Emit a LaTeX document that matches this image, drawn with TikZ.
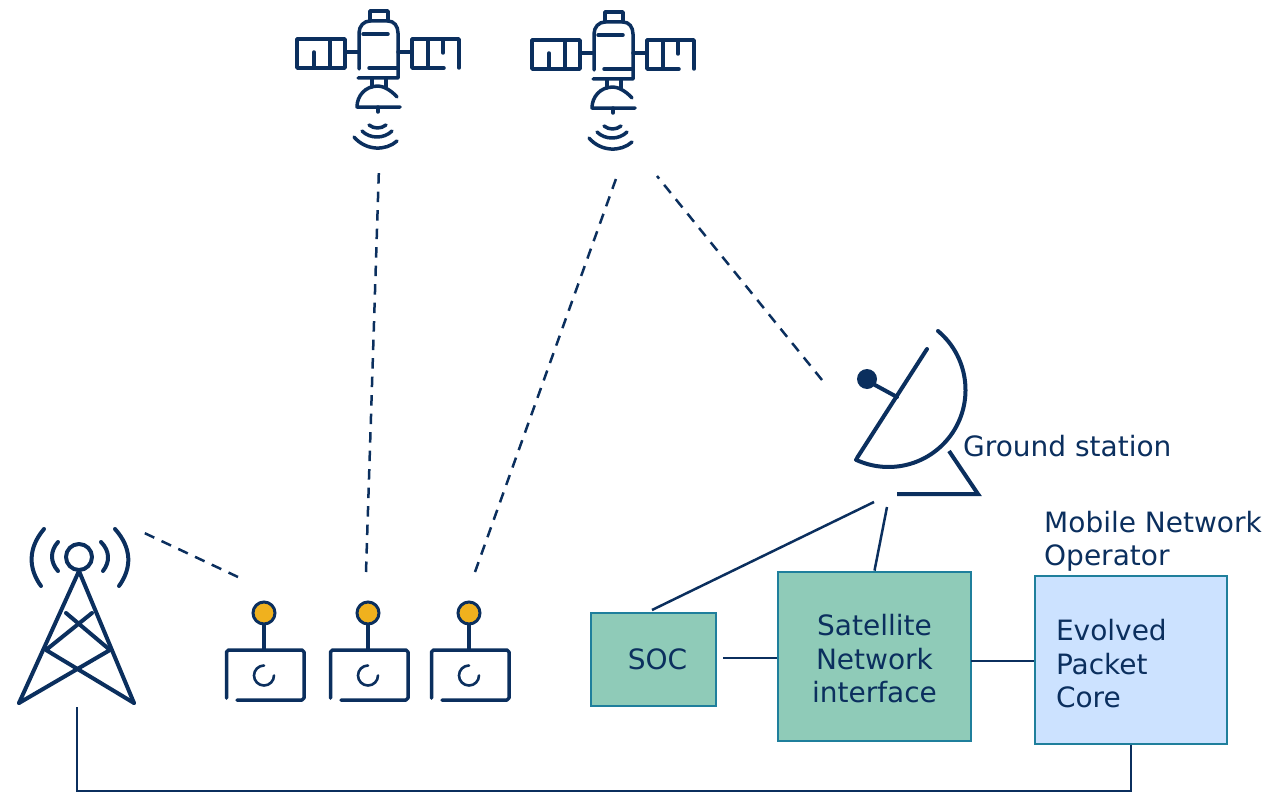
\documentclass[tikz,border=0pt]{standalone}
\usepackage{fontspec}
\setmainfont{DejaVu Sans}
\definecolor{navy}{HTML}{0B2F5E}
\definecolor{boxgreen}{HTML}{8FCBB8}
\definecolor{boxblue}{HTML}{CCE2FF}
\definecolor{boxedge}{HTML}{1F7F9C}
\definecolor{amber}{HTML}{F0B11E}
\tikzset{
  icon/.style={draw=navy,line width=4pt,line cap=round,line join=round},
  thin icon/.style={draw=navy,line width=3.5pt,line cap=round,line join=round},
  link/.style={draw=navy,line width=2.5pt},
  radio/.style={draw=navy,line width=2.5pt,dash pattern=on 10.5pt off 8pt},
  txt/.style={text=navy,font=\fontsize{28}{33.5}\selectfont},
  box/.style={draw=boxedge,line width=2.8pt,inner sep=0pt,align=center,text=navy,font=\fontsize{28}{33.5}\selectfont},
  pics/satellite/.style={code={
    \draw[thin icon] (370,21) -- (370,11) -- (388,11) -- (388,21);
    \draw[thin icon] (359,69) -- (359,33) .. controls (359,26) and (364,21) .. (370,21) -- (388,21) .. controls (394,21) and (398,26) .. (398,33) -- (398,78) -- (358,78);
    \draw[thin icon] (363,34) -- (388,34);
    \draw[thin icon] (369,68) -- (398,68);
    \draw[thin icon] (372,78) -- (372,87) (386,78) -- (386,87);
    \draw[thin icon] (397,97) .. controls (390,89) and (382,86) .. (378,86) .. controls (365,86) and (357,96) .. (357,107) -- (400,107);
    \draw[thin icon] (378,107) -- (378,112);
    \draw[thin icon] (369,125) .. controls (374,129) and (381,129) .. (386,125);
    \draw[thin icon] (362,131) .. controls (370,139) and (384,139) .. (392,131);
    \draw[thin icon] (354,137) .. controls (366,151) and (386,151) .. (397,141);
    \draw[thin icon] (345,39) -- (297,39) -- (297,68) -- (345,68) -- cycle;
    \draw[thin icon] (314,68) -- (314,52) (330,39) -- (330,68) (345,52) -- (359,52);
    \draw[thin icon] (398,52) -- (412,52);
    \draw[thin icon] (444,68) -- (412,68) -- (412,39) -- (459,39) -- (459,68);
    \draw[thin icon] (428,39) -- (428,68) (443,39) -- (443,53);
  }},
  pics/device/.style={code={
    \draw[thin icon] (226.5,698) -- (226.5,652) -- (228.5,650) -- (302,650) -- (304,652) -- (304,698) -- (302,700) -- (237,700);
    \draw[thin icon] (264,650) -- (264,624);
    \draw[draw=navy,line width=3pt,fill=amber] (264,613) circle[radius=11pt];
    \draw[line width=2.6pt,draw=navy,line cap=round] (264,665.5) arc[start angle=90,end angle=360,radius=10pt];
  }}
}
\begin{document}
\begin{tikzpicture}[x=1pt,y=-1pt]
\useasboundingbox (0,0) rectangle (1283,792);
% satellites
\pic (sat1) at (0,0) {satellite};
\pic (sat2) at (235,1) {satellite};
% tower
\draw[icon] (79,557) circle[radius=13pt];
\draw[icon] (19,703) -- (79,571) -- (134,703);
\draw[icon] (19,703) -- (110,650) -- (66,613);
\draw[icon] (134,703) -- (46,650) -- (92,613);
\draw[icon] (58,542) .. controls (50,551) and (50,562) .. (58,571);
\draw[icon] (44,529) .. controls (28,548) and (28,568) .. (41,586);
\draw[icon] (101,542) .. controls (110,551) and (110,562) .. (103,571);
\draw[icon] (115,529) .. controls (132,548) and (132,568) .. (119,586);
% devices
\pic (dev1) at (0,0) {device};
\pic (dev2) at (104,0) {device};
\pic (dev3) at (205,0) {device};
% dish
\draw[icon] (927,349) -- (857,458);
\draw[icon] (938,331) arc[start angle=50,end angle=-115,radius=77pt];
\draw[icon] (875,385) -- (897,397);
\fill[navy] (867,379) circle[radius=10pt];
\draw[icon,line cap=butt,line join=miter] (949,451) -- (978,494) -- (897,494);
% boxes
\node[box,fill=boxgreen,minimum width=125pt,minimum height=93pt] (soc) at (653.5,659.5) {\hspace{8pt}SOC};
\node[box,fill=boxgreen,minimum width=193pt,minimum height=169pt] (sni) at (874.5,656.5) {\rule{0pt}{26pt}Satellite\\Network\\interface};
\node[box,fill=boxblue,minimum width=192pt,minimum height=168pt,align=left,text width=150pt] (epc) at (1131,660) {\rule{0pt}{29pt}Evolved\\Packet\\Core};
% labels
\node[txt,anchor=west,inner sep=0pt] (gs) at (963,446) {Ground station};
\node[txt,anchor=west,align=left,inner sep=0pt] (mno) at (1044,541.5) {Mobile Network\\Operator};
% free ends
\coordinate (dl1) at (138,530); \coordinate (dl2) at (238,577);
\coordinate (dl3) at (379,167); \coordinate (dl4) at (366,572);
\coordinate (dl5) at (617,176); \coordinate (dl6) at (475,572);
\coordinate (dl7) at (657,176); \coordinate (dl8) at (822,380);
\coordinate (gs1) at (874,502); \coordinate (soc1) at (652,610);
\coordinate (gs2) at (887,507);
\coordinate (soc2) at (723,658);
\coordinate (sni2) at (971,661);
\coordinate (tw) at (77,707); \coordinate (corner) at (77,791);
% radio links
\draw[radio] (dl2) -- (dl1);
\draw[radio] (dl4) -- (dl3);
\draw[radio] (dl6) -- (dl5);
\draw[radio] (dl8) -- (dl7);
% wired links
\draw[link] (gs1) -- (soc1);
\draw[link] (gs2) -- (sni.north);
\draw[link] (soc2) -- (soc2 -| sni.west);
\draw[link] (sni2) -- (sni2 -| epc.west);
\draw[link] (tw) -- (corner) -- (corner -| epc.south) -- (epc.south);
\end{tikzpicture}
\end{document}
